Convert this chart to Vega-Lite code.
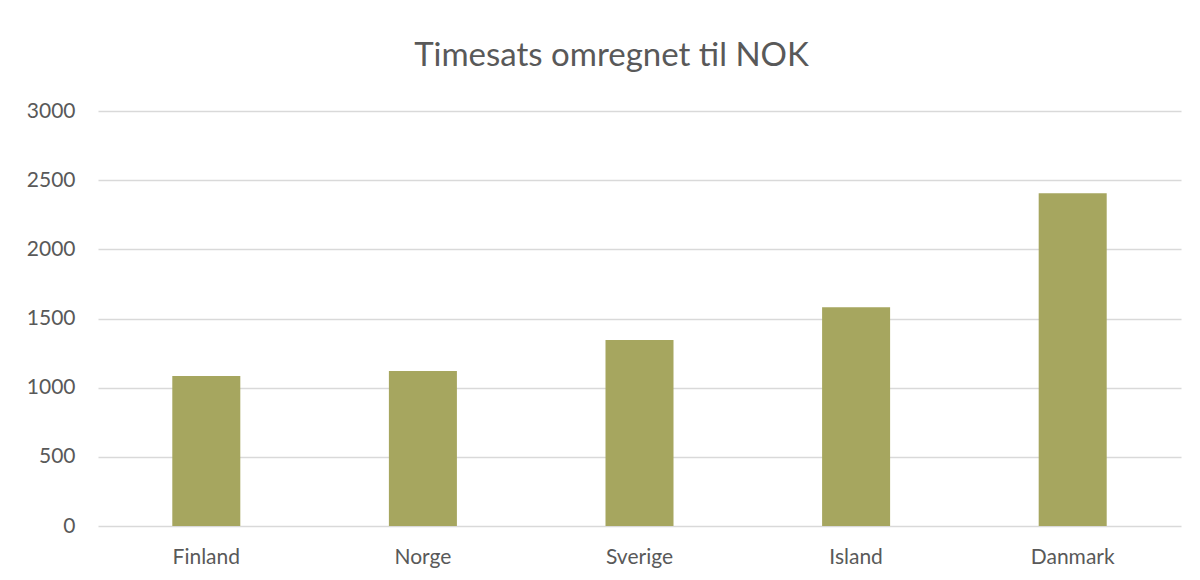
{
  "$schema": "https://vega.github.io/schema/vega-lite/v6.json",
  "width": 1083,
  "height": 415,
  "autosize": {"type": "none"},
  "padding": {"left": 98, "top": 111, "right": 19, "bottom": 54},
  "background": "white",
  "title": {
    "text": "Timesats omregnet til NOK",
    "fontSize": 33,
    "font": "Lato",
    "fontWeight": "normal",
    "color": "#595959",
    "anchor": "middle",
    "dx": -28,
    "offset": 27
  },
  "data": {
    "values": [
      {"land": "Finland", "timesats": 1084},
      {"land": "Norge", "timesats": 1120},
      {"land": "Sverige", "timesats": 1345},
      {"land": "Island", "timesats": 1581},
      {"land": "Danmark", "timesats": 2405}
    ]
  },
  "mark": {"type": "bar", "color": "#A6A65F"},
  "encoding": {
    "x": {
      "field": "land",
      "type": "nominal",
      "sort": null,
      "scale": {"paddingInner": 0.686, "paddingOuter": 0.343},
      "axis": {
        "title": null,
        "labelAngle": 0,
        "ticks": false,
        "domain": false,
        "labelFont": "Lato",
        "labelFontSize": 21,
        "labelColor": "#595959",
        "labelPadding": 20
      }
    },
    "y": {
      "field": "timesats",
      "type": "quantitative",
      "scale": {"domain": [0, 3000]},
      "axis": {
        "title": null,
        "values": [0, 500, 1000, 1500, 2000, 2500, 3000],
        "format": "d",
        "ticks": false,
        "domain": false,
        "gridColor": "#D9D9D9",
        "gridWidth": 1.3,
        "labelFont": "Lato",
        "labelFontSize": 21,
        "labelColor": "#595959",
        "labelPadding": 23
      }
    }
  },
  "config": {"view": {"stroke": null}}
}
